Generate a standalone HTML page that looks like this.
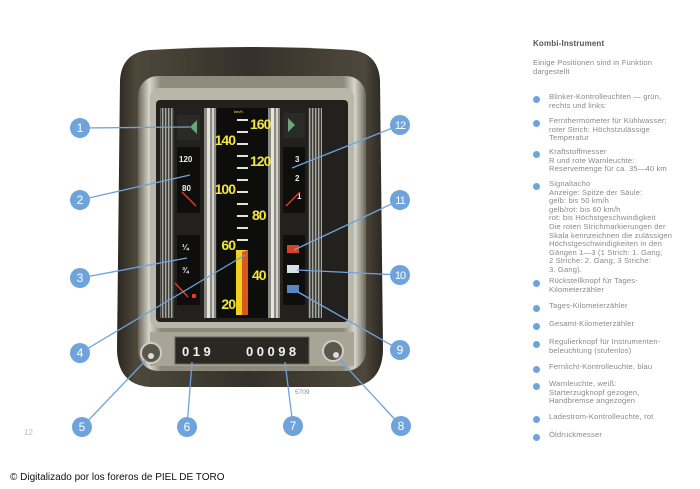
<!DOCTYPE html>
<html><head><meta charset="utf-8"><style>
html,body{margin:0;padding:0;background:#fff;}
body{width:700px;height:489px;position:relative;overflow:hidden;font-family:"Liberation Sans",sans-serif;}
.t{position:absolute;left:549px;font-size:7.6px;line-height:8.6px;color:#8a8a8a;white-space:nowrap;letter-spacing:0.15px}
.b{position:absolute;left:533px;width:7px;height:7px;border-radius:50%;background:#6fa3dc;}
</style></head><body>
<svg width="700" height="489" style="position:absolute;left:0;top:0" xmlns="http://www.w3.org/2000/svg">
<defs>
<linearGradient id="bz" x1="0" x2="1"><stop offset="0" stop-color="#2a2620"/><stop offset="0.07" stop-color="#4e483b"/><stop offset="0.5" stop-color="#35302a"/><stop offset="0.93" stop-color="#4e483b"/><stop offset="1" stop-color="#2a2620"/></linearGradient>
<linearGradient id="ch" x1="0" x2="1"><stop offset="0" stop-color="#6a6558"/><stop offset="0.05" stop-color="#d8d6cc"/><stop offset="0.1" stop-color="#8e8a7c"/><stop offset="0.9" stop-color="#8e8a7c"/><stop offset="0.95" stop-color="#d8d6cc"/><stop offset="1" stop-color="#6a6558"/></linearGradient>
<pattern id="rib" width="3" height="10" patternUnits="userSpaceOnUse"><rect width="3" height="10" fill="#3a3a36"/><rect width="1.4" height="10" fill="#a9a89f"/></pattern>
</defs>
<path d="M150,50 Q250,44 350,50 Q378,52 380,80 L383,350 Q382,385 350,387 L150,387 Q118,385 117,350 L120,80 Q122,52 150,50Z" fill="url(#bz)"/>
<rect x="138" y="76" width="228" height="295" rx="20" fill="url(#ch)"/>
<rect x="150" y="88" width="204" height="240" rx="10" fill="#b9b6aa"/>
<rect x="156" y="100" width="192" height="222" rx="4" fill="#22211e"/>
<rect x="160" y="108" width="14" height="210" fill="url(#rib)"/>
<rect x="308" y="108" width="14" height="210" fill="url(#rib)"/>
<rect x="204" y="108" width="12" height="210" fill="#8c8b83"/><rect x="207" y="108" width="3" height="210" fill="#e6e5df"/><rect x="212" y="108" width="2" height="210" fill="#d0cfc8"/>
<rect x="268" y="108" width="12" height="210" fill="#8c8b83"/><rect x="271" y="108" width="3" height="210" fill="#e6e5df"/><rect x="276" y="108" width="2" height="210" fill="#d0cfc8"/>
<rect x="217" y="108" width="51" height="210" fill="#0d0d0c"/>
<g fill="#e2e2e0">
<rect x="237" y="119" width="11" height="2"/><rect x="237" y="131" width="11" height="2"/><rect x="237" y="143" width="11" height="2"/><rect x="237" y="155" width="11" height="2"/><rect x="237" y="167" width="11" height="2"/><rect x="237" y="179" width="11" height="2"/><rect x="237" y="191" width="11" height="2"/><rect x="237" y="203" width="11" height="2"/><rect x="237" y="215" width="11" height="2"/><rect x="237" y="227" width="11" height="2"/><rect x="237" y="239" width="11" height="2"/>
</g>
<rect x="236" y="250" width="12" height="65" fill="#f0d21e"/>
<path d="M242,252 L248,250 L248,315 L242,315 Z" fill="#d43a1e" opacity="0.8"/>
<g font-family="Liberation Sans" font-size="14" fill="#f2e63a" font-weight="bold" letter-spacing="-1">
<text x="250" y="129">160</text><text x="235" y="145" text-anchor="end">140</text><text x="250" y="166">120</text><text x="235" y="194" text-anchor="end">100</text><text x="252" y="220">80</text><text x="235" y="250" text-anchor="end">60</text><text x="252" y="280">40</text><text x="235" y="309" text-anchor="end">20</text>
</g>
<text x="234" y="113" font-size="4" fill="#f2e63a">km/h</text>
<rect x="177" y="115" width="23" height="25" fill="#2a2a26"/><path d="M197,120 L190,127 L197,134Z" fill="#6aa67a"/>
<rect x="177" y="147" width="23" height="66" fill="#0e0e0d"/>
<text x="179" y="162" font-size="8" fill="#eee" font-weight="bold">120</text><text x="182" y="191" font-size="8" fill="#eee" font-weight="bold">80</text>
<line x1="182" y1="192" x2="196" y2="206" stroke="#e03a20" stroke-width="1.5"/>
<rect x="177" y="235" width="23" height="70" fill="#0e0e0d"/>
<text x="182" y="250" font-size="8" fill="#eee" font-weight="bold">¼</text><text x="182" y="273" font-size="8" fill="#eee" font-weight="bold">¾</text>
<line x1="175" y1="283" x2="188" y2="297" stroke="#e03a20" stroke-width="1.5"/><rect x="192" y="294" width="4" height="4" fill="#e03a20"/>
<rect x="283" y="113" width="22" height="25" fill="#2a2a26"/><path d="M288,118 L295,125 L288,132Z" fill="#6aa67a"/>
<rect x="283" y="147" width="22" height="66" fill="#0e0e0d"/>
<text x="295" y="162" font-size="8" fill="#eee" font-weight="bold">3</text><text x="295" y="181" font-size="8" fill="#eee" font-weight="bold">2</text><text x="297" y="199" font-size="8" fill="#eee" font-weight="bold">1</text>
<line x1="286" y1="206" x2="300" y2="192" stroke="#e03a20" stroke-width="1.5"/>
<rect x="283" y="235" width="22" height="70" fill="#0e0e0d"/>
<rect x="287" y="245" width="12" height="8" fill="#d8402a"/><rect x="287" y="265" width="12" height="8" fill="#d8e0e8"/><rect x="287" y="285" width="12" height="8" fill="#5a86c2"/>
<rect x="150" y="332" width="204" height="34" fill="#a8a496"/>
<rect x="175" y="337" width="134" height="27" fill="#2a2822" stroke="#6a665a"/>
<g font-family="Liberation Sans" font-size="13" font-weight="bold" fill="#f2f2f0" letter-spacing="3.5">
<text x="182" y="356">019</text><text x="246" y="356">00098</text></g>
<circle cx="151" cy="353" r="10" fill="#5a574e" stroke="#cfcdc4" stroke-width="2"/><circle cx="151" cy="356" r="3" fill="#ddd"/>
<circle cx="333" cy="351" r="10" fill="#5a574e" stroke="#cfcdc4" stroke-width="2"/><circle cx="336" cy="355" r="3" fill="#ddd"/>
<text x="295" y="394" font-size="6.5" fill="#6c93c0">5709</text>
<g stroke="#6fa3dc" stroke-width="1.3">
<line x1="80" y1="128" x2="190" y2="127"/><line x1="80" y1="200" x2="190" y2="175"/><line x1="80" y1="278" x2="187" y2="258"/><line x1="80" y1="353" x2="245" y2="255"/>
<line x1="82" y1="427" x2="146" y2="360"/><line x1="187" y1="427" x2="192" y2="362"/><line x1="293" y1="426" x2="285" y2="362"/><line x1="401" y1="426" x2="340" y2="360"/>
<line x1="400" y1="350" x2="298" y2="292"/><line x1="400" y1="275" x2="297" y2="270"/><line x1="400" y1="200" x2="294" y2="250"/><line x1="400" y1="125" x2="292" y2="168"/>
</g>
<g fill="#6fa3dc">
<circle cx="80" cy="128" r="10"/><circle cx="80" cy="200" r="10"/><circle cx="80" cy="278" r="10"/><circle cx="80" cy="353" r="10"/>
<circle cx="82" cy="427" r="10"/><circle cx="187" cy="427" r="10"/><circle cx="293" cy="426" r="10"/><circle cx="401" cy="426" r="10"/>
<circle cx="400" cy="350" r="10"/><circle cx="400" cy="275" r="10"/><circle cx="400" cy="200" r="10"/><circle cx="400" cy="125" r="10"/>
</g>
<g fill="#fff" font-family="Liberation Sans" font-size="12" text-anchor="middle">
<text x="80" y="132">1</text><text x="80" y="204">2</text><text x="80" y="282">3</text><text x="80" y="357">4</text>
<text x="82" y="431">5</text><text x="187" y="431">6</text><text x="293" y="430">7</text><text x="401" y="430">8</text>
<text x="400" y="354">9</text><text x="400" y="279" font-size="11" letter-spacing="-1">10</text><text x="400" y="204" font-size="11" letter-spacing="-1">11</text><text x="400" y="129" font-size="11" letter-spacing="-1">12</text>
</g>
<text x="24" y="435" font-size="8" fill="#bbb">12</text>
<text x="10" y="480" font-size="10" fill="#111">© Digitalizado por los foreros de PIEL DE TORO</text>
</svg>
<div class="t" style="left:533px;top:40px;font-weight:bold;color:#555;font-size:8px">Kombi-Instrument</div>
<div class="t" style="left:533px;top:59px">Einige Positionen sind in Funktion<br>dargestellt</div>
<div class="b" style="top:96px"></div><div class="t" style="top:93px">Blinker-Kontrolleuchten — grün,<br>rechts und links:</div>
<div class="b" style="top:120px"></div><div class="t" style="top:117px">Fernthermometer für Kühlwasser;<br>roter Strich: Höchstzulässige<br>Temperatur</div>
<div class="b" style="top:151px"></div><div class="t" style="top:148px">Kraftstoffmesser<br>R und rote Warnleuchte:<br>Reservemenge für ca. 35—40 km</div>
<div class="b" style="top:183px"></div><div class="t" style="top:180px">Signaltacho<br>Anzeige: Spitze der Säule:<br>gelb: bis 50 km/h<br>gelb/rot: bis 60 km/h<br>rot: bis Höchstgeschwindigkeit<br>Die roten Strichmarkierungen der<br>Skala kennzeichnen die zulässigen<br>Höchstgeschwindigkeiten in den<br>Gängen 1—3 (1 Strich: 1. Gang;<br>2 Striche: 2. Gang; 3 Striche:<br>3. Gang).</div>
<div class="b" style="top:280px"></div><div class="t" style="top:277px">Rückstellknopf für Tages-<br>Kilometerzähler</div>
<div class="b" style="top:305px"></div><div class="t" style="top:302px">Tages-Kilometerzähler</div>
<div class="b" style="top:323px"></div><div class="t" style="top:320px">Gesamt-Kilometerzähler</div>
<div class="b" style="top:341px"></div><div class="t" style="top:338px">Regulierknopf für Instrumenten-<br>beleuchtung (stufenlos)</div>
<div class="b" style="top:366px"></div><div class="t" style="top:363px">Fernlicht-Kontrolleuchte, blau</div>
<div class="b" style="top:383px"></div><div class="t" style="top:380px">Warnleuchte, weiß:<br>Starterzugknopf gezogen,<br>Handbremse angezogen</div>
<div class="b" style="top:416px"></div><div class="t" style="top:413px">Ladestrom-Kontrolleuchte, rot</div>
<div class="b" style="top:434px"></div><div class="t" style="top:431px">Öldruckmesser</div>
</body></html>
